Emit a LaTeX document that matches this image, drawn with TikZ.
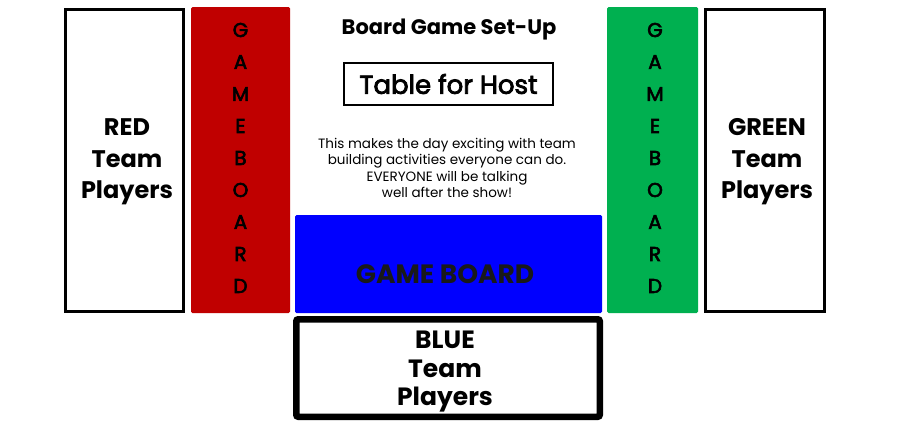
\documentclass[tikz,border=0pt]{standalone}
\usepackage{fontspec}
\setmainfont{Poppins}
\newfontfamily\medfont[FakeBold=3]{Poppins}
\definecolor{boardred}{HTML}{C00000}
\definecolor{boardgreen}{HTML}{00B050}
\definecolor{boardblue}{HTML}{0000FF}
\tikzset{
	players/.style={draw=black, line width=3pt, fill=white},
	board/.style={draw=none, rounded corners=1.5pt},
	teamtext/.style={align=center, font=\fontsize{24}{31.5}\selectfont\bfseries, inner sep=0pt},
	boardletter/.style={font=\fontsize{20}{20}\selectfont\medfont, inner sep=0pt},
}
\begin{document}
\begin{tikzpicture}[x=1pt, y=-1pt]
	\useasboundingbox [fill=white] (0,0) rectangle (912,432);
	% team tables on the sides
	\draw [players] (65.5,9.5) rectangle (183.5,311.5);
	\draw [players] (705.5,9.5) rectangle (824.5,311.5);
	\node [teamtext] (red) at (127,162) {RED\\Team\\Players};
	\node [teamtext] (green) at (767,162) {GREEN\\Team\\Players};
	% the two upright game boards
	\fill [board, boardred] (191,7) rectangle (290,313);
	\fill [board, boardgreen] (607,7) rectangle (698,313);
	\foreach \ch [count=\i] in {G,A,M,E,B,O,A,R,D} {
		\node [boardletter] (redletter\i) at (240.5,{30+32*(\i-1)}) {\ch};
		\node [boardletter] (greenletter\i) at (655,{30+32*(\i-1)}) {\ch};
	}
	% middle: title, host table and note
	\node [font=\fontsize{21}{21}\selectfont\bfseries] (title) at (449,29.5) {Board Game Set-Up};
	\node [draw, line width=1.2pt, minimum width=209pt, minimum height=42pt,
		font=\fontsize{26}{26}\selectfont\medfont] (host) at (448.5,84) {Table for Host};
	\node [align=center, font=\fontsize{13.5}{16.3}\selectfont, inner sep=0pt] (note) at (447,168)
		{This makes the day exciting with team\\building activities everyone can do.\\EVERYONE will be talking\\well after the show!};
	% blue board and the blue team below it
	\fill [board, boardblue] (295,215) rectangle (602,313);
	\node [font=\fontsize{26.5}{26.5}\selectfont\bfseries, text=black!90] (gameboard) at (445,274) {GAME BOARD};
	\draw [line width=6.5pt, rounded corners=2pt] (296.25,319.25) rectangle (599.75,416.75);
	\node [teamtext, font=\fontsize{25}{28.5}\selectfont\bfseries] (blue) at (445,372) {BLUE\\Team\\Players};
\end{tikzpicture}
\end{document}
